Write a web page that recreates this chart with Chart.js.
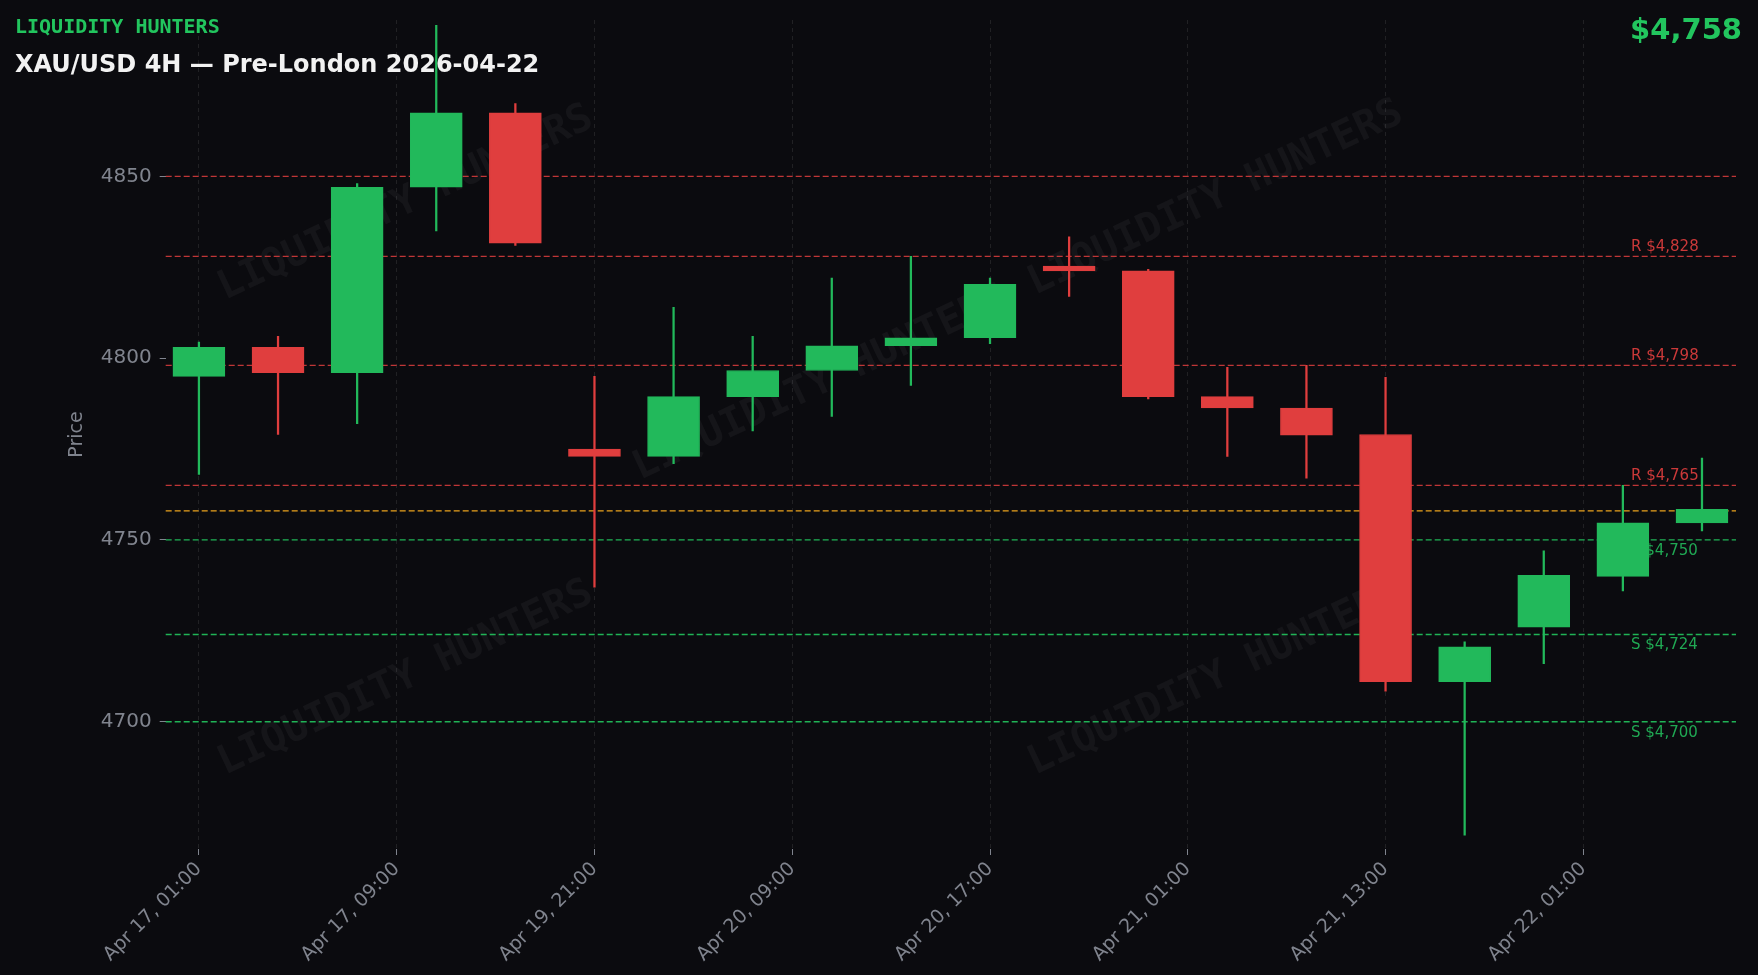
<!DOCTYPE html>
<html>
<head>
<meta charset="utf-8">
<script src="https://cdn.jsdelivr.net/npm/chart.js@4/dist/chart.umd.min.js"></script>
<style>
  html, body { margin: 0; padding: 0; background: #0b0b0f; overflow: hidden; }
  #wrap { position: relative; width: 1758px; height: 975px; }
  #brand { position: absolute; left: 15px; top: 14px; color: #22c55e; font: bold 20px "DejaVu Sans Mono", monospace; }
  #title { position: absolute; left: 15px; top: 50px; color: #f2f2f2; font: bold 24px "DejaVu Sans", sans-serif; }
  #price { position: absolute; right: 16px; top: 12px; color: #22c55e; font: bold 29px "DejaVu Sans", sans-serif; }
</style>
</head>
<body>
<div id="wrap">
  <canvas id="chart" width="1758" height="975"></canvas>
  <div id="brand">LIQUIDITY HUNTERS</div>
  <div id="title">XAU/USD 4H — Pre-London 2026-04-22</div>
  <div id="price">$4,758</div>
</div>
<script>
// candles: open, high, low, close
var opens  = [4795, 4803, 4796, 4847, 4867.5, 4775, 4773, 4789.4, 4796.6, 4803.4, 4805.6, 4825.3, 4824, 4789.4, 4786.3, 4779, 4711, 4726, 4740, 4754.7];
var highs  = [4804.4, 4806, 4848, 4891.5, 4870, 4795, 4814, 4806, 4822, 4828, 4822, 4833.4, 4824.4, 4797.5, 4798, 4794.7, 4722, 4747, 4765, 4772.5];
var lows   = [4768, 4779, 4782, 4835, 4831, 4737, 4771, 4780, 4784, 4792.5, 4804, 4817, 4788.8, 4773, 4767, 4708.4, 4668.8, 4716, 4736, 4752.5];
var closes = [4803, 4796, 4847, 4867.5, 4831.6, 4773, 4789.4, 4796.6, 4803.4, 4805.6, 4820.3, 4824, 4789.4, 4786.3, 4778.8, 4711, 4720.6, 4740.3, 4754.7, 4758.4];

var tickPositions = [0, 2.5, 5, 7.5, 10, 12.5, 15, 17.5];
var tickLabels = ["Apr 17, 01:00", "Apr 17, 09:00", "Apr 19, 21:00", "Apr 20, 09:00", "Apr 20, 17:00", "Apr 21, 01:00", "Apr 21, 13:00", "Apr 22, 01:00"];
var yTicks = [4700, 4750, 4800, 4850];

var resistance = [4828, 4798, 4765];
var support = [4750, 4724, 4700];
var extraRed = [4850];
var currentPrice = 4758;

var GREEN = "#22b95b";
var RED = "#e03e3e";

var bodies = opens.map(function (o, i) { return { x: i, y: [o, closes[i]] }; });
var wicks = opens.map(function (o, i) { return { x: i, y: [lows[i], highs[i]] }; });
var colors = opens.map(function (o, i) { return closes[i] >= o ? GREEN : RED; });

function fmt(v) { return "$" + v.toLocaleString("en-US"); }

var levelsPlugin = {
  id: "levels",
  beforeDatasetsDraw: function (chart) {
    var ctx = chart.ctx, a = chart.chartArea, y = chart.scales.y;
    ctx.save();
    // watermark
    ctx.font = "bold 40px 'DejaVu Sans Mono', monospace";
    ctx.fillStyle = "rgba(255,255,255,0.045)";
    [[225, 300], [1035, 295], [640, 480], [225, 775], [1035, 775]].forEach(function (p) {
      ctx.save(); ctx.translate(p[0], p[1]); ctx.rotate(-0.44);
      ctx.fillText("LIQUIDITY HUNTERS", 0, 0); ctx.restore();
    });
    ctx.setLineDash([6, 3]);
    ctx.lineWidth = 1.3;
    function line(v, c) {
      var py = y.getPixelForValue(v);
      ctx.strokeStyle = c; ctx.beginPath(); ctx.moveTo(a.left, py); ctx.lineTo(a.right, py); ctx.stroke();
      return py;
    }
    ctx.font = "15px 'DejaVu Sans', sans-serif";
    extraRed.forEach(function (v) { line(v, "rgba(224,62,62,0.85)"); });
    resistance.forEach(function (v) {
      var py = line(v, "rgba(224,62,62,0.85)");
      ctx.fillStyle = "rgba(224,62,62,0.9)"; ctx.fillText("R " + fmt(v), a.right - 105, py - 5);
    });
    line(currentPrice, "rgba(245,170,30,0.95)");
    support.forEach(function (v) {
      var py = line(v, "rgba(34,197,94,0.9)");
      ctx.fillStyle = "rgba(34,185,91,0.9)"; ctx.fillText("S " + fmt(v), a.right - 105, py + 15);
    });
    ctx.restore();
  }
};

new Chart(document.getElementById("chart"), {
  type: "bar",
  data: {
    datasets: [
      { data: wicks, backgroundColor: colors, barThickness: 1.6, grouped: false, order: 2 },
      { data: bodies, backgroundColor: colors, borderColor: colors, borderWidth: 1, barThickness: 52, grouped: false, borderSkipped: false, order: 1 }
    ]
  },
  options: {
    responsive: false,
    animation: false,
    layout: { padding: { top: 17, right: 22, left: 62, bottom: 6 } },
    plugins: { legend: { display: false }, tooltip: { enabled: false } },
    scales: {
      x: {
        type: "linear", min: -0.42, max: 19.43, offset: false,
        afterBuildTicks: function (s) { s.ticks = tickPositions.map(function (v) { return { value: v }; }); },
        ticks: {
          color: "#80848e", font: { size: 19, family: "DejaVu Sans" }, maxRotation: 45, minRotation: 45,
          callback: function (v) { return tickLabels[tickPositions.indexOf(v)]; }
        },
        grid: { offset: false, color: "rgba(255,255,255,0.09)", tickColor: "#80848e", tickLength: 6, drawOnChartArea: true },
        border: { display: false, dash: [4, 4] }
      },
      y: {
        min: 4665, max: 4893,
        afterBuildTicks: function (s) { s.ticks = yTicks.map(function (v) { return { value: v }; }); },
        ticks: { color: "#80848e", font: { size: 20, family: "DejaVu Sans" }, padding: 8, callback: function (v) { return String(v); } },
        grid: { drawOnChartArea: false, tickColor: "#80848e", tickLength: 6 },
        border: { display: false },
        title: { display: true, text: "Price", color: "#80848e", font: { size: 19, family: "DejaVu Sans" } }
      }
    }
  },
  plugins: [levelsPlugin]
});
</script>
</body>
</html>
